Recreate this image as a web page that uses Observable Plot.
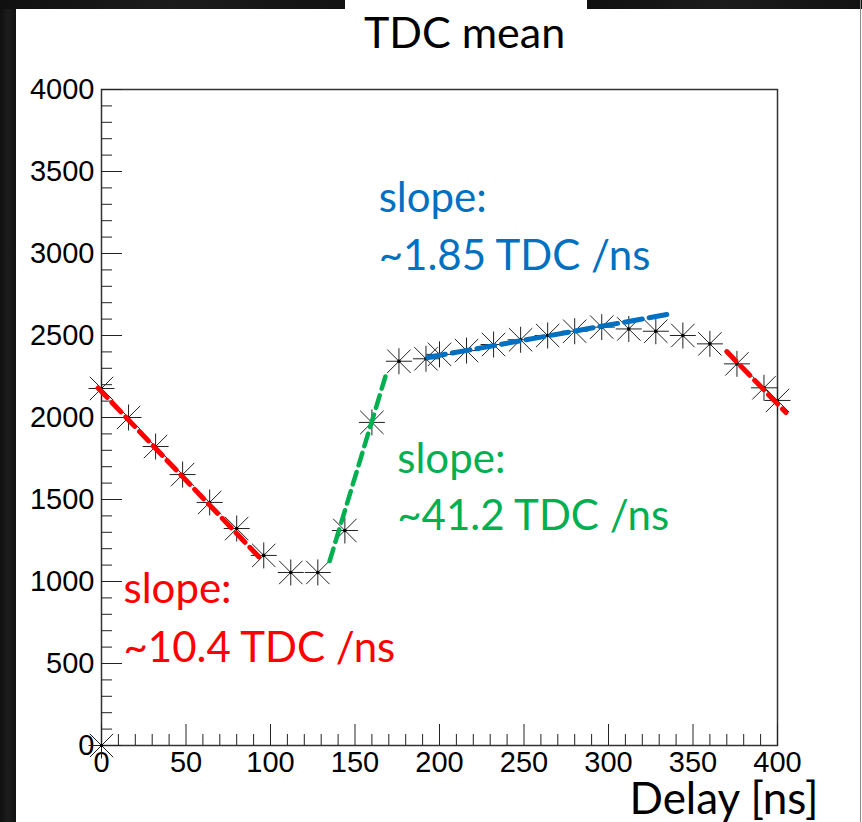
<!DOCTYPE html>
<html>
<head>
<meta charset="utf-8">
<script src="https://cdn.jsdelivr.net/npm/d3@7"></script>
<script src="https://cdn.jsdelivr.net/npm/@observablehq/plot@0.6"></script>
<style>
  html, body { margin: 0; padding: 0; background: #ffffff; }
  #page { position: relative; width: 862px; height: 822px; overflow: hidden; background: #ffffff; }
  #page svg { position: absolute; left: 0; top: 0; }
  .strip { position: absolute; background: linear-gradient(90deg, #101010, #1c1c1c, #121212); }
</style>
</head>
<body>
<div id="page">
  <div class="strip" style="left:0;top:0;width:16px;height:822px;"></div>
  <div class="strip" style="left:0;top:0;width:345px;height:9px;"></div>
  <div class="strip" style="left:587px;top:0;width:275px;height:9px;"></div>
  <div style="position:absolute;left:860px;top:0;width:1px;height:822px;background:#888;"></div>
</div>
<script>
// ---- data ----
const title = "TDC mean";
const xLabel = "Delay [ns]";

const delay = [0, 0, 16, 32, 48, 64, 80, 96, 112, 128, 144, 160, 176, 192, 200,
               216, 232, 248, 264, 280, 296, 312, 328, 344, 360, 376, 392, 400];
const tdcMean = [0, 2177, 2000, 1823, 1652, 1482, 1323, 1159, 1055, 1055, 1311, 1970, 2343, 2358, 2385,
                 2408, 2445, 2474, 2500, 2526, 2551, 2540, 2526, 2500, 2449, 2327, 2181, 2104];

// fitted segments (endpoints)
const fitRed1X = [-2, 95],   fitRed1Y = [2180, 1130];
const fitGreenX = [135, 168], fitGreenY = [1125, 2250];
const fitBlueX = [193, 338],  fitBlueY = [2366, 2634];
const fitRed2X = [370, 405],  fitRed2Y = [2402, 2030];

// annotation lines (x, baseline y in data units)
const annText = ["slope:", "~10.4 TDC /ns", "slope:", "~1.85 TDC /ns", "slope:", "~41.2 TDC /ns"];
const annX    = [13, 13, 164, 164, 175, 175];
const annY    = [866, 506, 3250, 2896, 1659, 1311];
const annColor = ["#ff0000", "#ff0000", "#0070c0", "#0070c0", "#00b050", "#00b050"];

const yMajor = d3.range(0, 4001, 500);
const yMinor = d3.range(0, 4001, 100).filter(v => v % 500 !== 0);
const xMajor = d3.range(0, 401, 50);
const xMinor = d3.range(0, 401, 10).filter(v => v % 50 !== 0);

// ---- build ----
const points = delay.map((d, i) => ({x: d, y: tdcMean[i]}));
const seg = (xs, ys) => xs.map((x, i) => ({x, y: ys[i]}));
const ann = annText.map((t, i) => ({text: t, x: annX[i], y: annY[i], color: annColor[i]}));

const asterisk = {
  draw(ctx, size) {
    const r = Math.sqrt(size / Math.PI);
    const d = r * 0.9;
    ctx.moveTo(-r, 0); ctx.lineTo(r, 0);
    ctx.moveTo(0, -r); ctx.lineTo(0, r);
    ctx.moveTo(-d, -d); ctx.lineTo(d, d);
    ctx.moveTo(-d, d); ctx.lineTo(d, -d);
  }
};

const tickFont = "Liberation Sans, Arial, sans-serif";
const textFont = "Lato, 'Open Sans', sans-serif";
const annSize = 42;
const fmt = d3.format("d");

const chart = Plot.plot({
  width: 862,
  height: 822,
  marginLeft: 101,
  marginRight: 85,
  marginTop: 89,
  marginBottom: 77,
  style: {background: "transparent", overflow: "visible"},
  x: {domain: [0, 400]},
  y: {domain: [0, 4000]},
  marks: [
    Plot.frame({stroke: "#333", strokeWidth: 1.5}),
    Plot.axisY(yMinor, {tickSize: -11, tickFormat: () => "", label: null, stroke: "#222"}),
    Plot.axisY(yMajor, {tickSize: -21, tickFormat: () => "", label: null, stroke: "#222"}),
    Plot.axisY(yMajor, {tickSize: 0, tickPadding: 7, tickFormat: fmt, label: null, fontSize: 29, fontFamily: tickFont, fill: "#000"}),
    Plot.axisX(xMinor, {tickSize: -11, tickFormat: () => "", label: null, stroke: "#222"}),
    Plot.axisX(xMajor, {tickSize: -21, tickFormat: () => "", label: null, stroke: "#222"}),
    Plot.axisX(xMajor, {tickSize: 0, tickPadding: 6, tickFormat: fmt, label: null, fontSize: 29, fontFamily: tickFont, fill: "#000"}),
    Plot.dot(points, {x: "x", y: "y", symbol: asterisk, r: 13, stroke: "#222", strokeWidth: 1, fill: "none"}),
    Plot.dot(points, {x: "x", y: "y", r: 1.8, fill: "#000", stroke: "none"}),
    Plot.line(seg(fitRed1X, fitRed1Y), {x: "x", y: "y", stroke: "#ff0000", strokeWidth: 5, strokeDasharray: "13,7"}),
    Plot.line(seg(fitGreenX, fitGreenY), {x: "x", y: "y", stroke: "#00b050", strokeWidth: 4.5, strokeDasharray: "13,7"}),
    Plot.line(seg(fitBlueX, fitBlueY), {x: "x", y: "y", stroke: "#0070c0", strokeWidth: 5, strokeDasharray: "18,7"}),
    Plot.line(seg(fitRed2X, fitRed2Y), {x: "x", y: "y", stroke: "#ff0000", strokeWidth: 5, strokeDasharray: "13,7"}),
    Plot.text(ann, {x: "x", y: "y", text: "text", fill: "color", textAnchor: "start", lineAnchor: "top",
                    dy: -Math.round(0.71 * annSize), fontSize: annSize, fontFamily: textFont}),
    Plot.text([title], {frameAnchor: "top", dx: 25, dy: -72, lineAnchor: "top", fontSize: 43,
                        fontFamily: textFont, fill: "#000"}),
    Plot.text([xLabel], {frameAnchor: "bottom-right", dx: 41, dy: 37, textAnchor: "end", lineAnchor: "top",
                         fontSize: 44, fontFamily: textFont, fill: "#000"})
  ]
});
document.getElementById("page").appendChild(chart);
</script>
</body>
</html>
